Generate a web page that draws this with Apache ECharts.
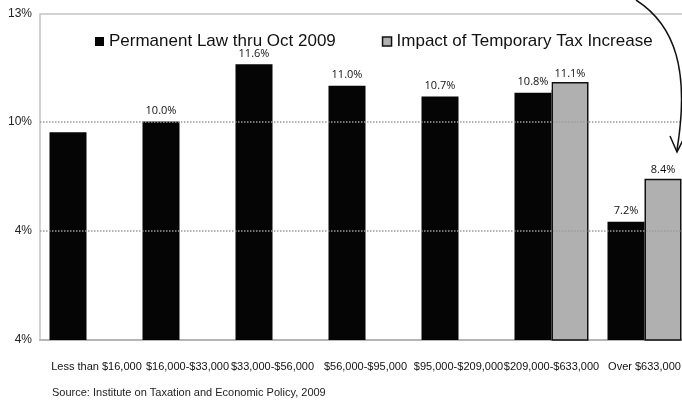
<!DOCTYPE html>
<html>
<head>
<meta charset="utf-8">
<script src="https://cdn.jsdelivr.net/npm/echarts@6/dist/echarts.min.js"></script>
<style>
  html, body { margin: 0; padding: 0; background: #fff; }
  #chart { width: 682px; height: 407px; }
</style>
</head>
<body>
<div id="chart"></div>
<script>
// income groups and effective tax rates (%)
var categories = ['Less than $16,000', '$16,000-$33,000', '$33,000-$56,000', '$56,000-$95,000',
  '$95,000-$209,000', '$209,000-$633,000', 'Over $633,000']
var permanent = [9.7, 10.0, 11.6, 11.0, 10.7, 10.8, 7.2]
var temporary = [null, null, null, null, null, 11.1, 8.4]
// which bars carry a value label
var permanentLabeled = [false, true, true, true, true, true, true]
// the y axis of the original has odd labels on its gridlines
var gridValues = [3.9, 6.95, 10, 13]
var gridLabels = ['4%', '4%', '10%', '13%']

var sans = '"Liberation Sans", Arial, sans-serif'
// the original's first category labels sit a little right of centre
var labelPadLeft = [20, 16, 0, 0, 0, 0, 0]

var chart = echarts.init(document.getElementById('chart'))
chart.setOption({
  animation: false,
  grid: {
    left: 40,
    top: 14,
    bottom: 67,
    right: -9,
    outerBoundsMode: 'none',
    containLabel: false,
    show: true,
    borderColor: '#c4c4c4',
    borderWidth: 1.5,
    backgroundColor: '#fff'
  },
  legend: {
    top: 28,
    left: 90,
    width: 600,
    itemWidth: 9,
    itemHeight: 9,
    itemGap: 46,
    icon: 'rect',
    textStyle: { fontFamily: sans, fontSize: 17, color: '#111' },
    data: [
      { name: 'Permanent Law thru Oct 2009' },
      { name: 'Impact of Temporary Tax Increase', itemStyle: { color: '#b0b0b0', borderColor: '#111', borderWidth: 1.5 } }
    ]
  },
  xAxis: {
    type: 'category',
    data: categories.map(function (c, i) {
      return { value: c, textStyle: { padding: [0, 0, 0, labelPadLeft[i]] } }
    }),
    axisLine: { lineStyle: { color: '#b5b5b5', width: 2 } },
    axisTick: { show: false },
    axisLabel: { fontFamily: sans, fontSize: 11, color: '#111', margin: 21, interval: 0 }
  },
  yAxis: {
    type: 'value',
    min: 3.9,
    max: 13,
    splitLine: { show: false },
    axisLine: { show: false },
    axisTick: { show: false },
    axisLabel: {
      customValues: gridValues,
      formatter: function (v) {
        var i = gridValues.indexOf(v)
        return i >= 0 ? gridLabels[i] : ''
      },
      fontFamily: sans,
      fontSize: 12,
      color: '#222',
      margin: 8
    }
  },
  series: [
    {
      name: 'Permanent Law thru Oct 2009',
      type: 'bar',
      barWidth: 37,
      barGap: '0%',
      itemStyle: { color: '#050505' },
      data: permanent.map(function (v, i) {
        return { value: v, label: { show: permanentLabeled[i] } }
      }),
      label: {
        position: 'top',
        distance: 3,
        formatter: function (p) { return p.value.toFixed(1) + '%' },
        fontFamily: '"Open Sans", sans-serif',
        fontSize: 11,
        color: '#111',
        backgroundColor: '#fff',
        padding: [2, 3]
      },
      markLine: {
        silent: true,
        symbol: 'none',
        label: { show: false },
        lineStyle: { type: 'dotted', color: '#9a9a9a', width: 1.5 },
        data: [{ yAxis: gridValues[1] }, { yAxis: gridValues[2] }]
      },
      z: 3
    },
    {
      name: 'Impact of Temporary Tax Increase',
      type: 'bar',
      barWidth: 37,
      itemStyle: { color: '#b0b0b0', borderColor: '#111', borderWidth: 1.5 },
      data: temporary,
      label: {
        show: true,
        position: 'top',
        distance: 3,
        formatter: function (p) { return p.value.toFixed(1) + '%' },
        fontFamily: '"Open Sans", sans-serif',
        fontSize: 11,
        color: '#111'
      },
      z: 3
    }
  ],
  graphic: [
    {
      type: 'bezierCurve',
      shape: { x1: 636, y1: 0, cpx1: 675, cpy1: 25, cpx2: 690, cpy2: 70, x2: 677, y2: 150 },
      style: { stroke: '#111', lineWidth: 1.5, fill: null },
      z: 10
    },
    {
      type: 'polyline',
      shape: { points: [[670, 136], [677, 152], [684, 138]] },
      style: { stroke: '#111', lineWidth: 1.5, fill: null },
      z: 10
    },
    {
      type: 'text',
      left: 52,
      top: 387,
      style: { text: 'Source: Institute on Taxation and Economic Policy, 2009', font: '11px ' + sans, fill: '#222' }
    }
  ]
})
</script>
</body>
</html>
